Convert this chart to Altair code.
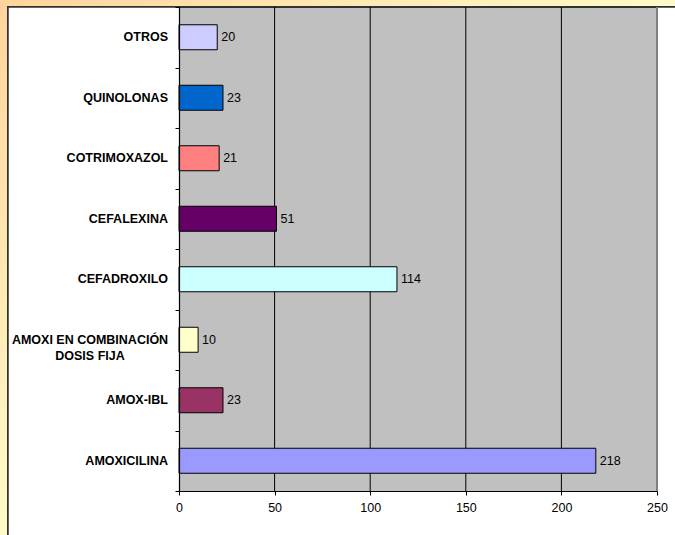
import altair as alt
import pandas as pd

# Antibiotic prescriptions by group
categories = [
    "OTROS",
    "QUINOLONAS",
    "COTRIMOXAZOL",
    "CEFALEXINA",
    "CEFADROXILO",
    "AMOXI EN COMBINACIÓN\nDOSIS FIJA",
    "AMOX-IBL",
    "AMOXICILINA",
]
values = [20, 23, 21, 51, 114, 10, 23, 218]
bar_colors = ["#CCCCFF", "#0066CC", "#FF8080", "#660066",
              "#CCFFFF", "#FFFFCC", "#993366", "#9999FF"]
x_ticks = [0, 50, 100, 150, 200, 250]
grid_values = [50, 100, 150, 200]

FONT = "Liberation Sans"
W, H = 478, 484
PAD = {"left": 179, "top": 7, "right": 18, "bottom": 44}

df = pd.DataFrame({"cat": categories, "val": values})
grid_df = pd.DataFrame({"v": grid_values})

x_scale = alt.Scale(domain=[0, 250], nice=False, zero=True)
y_scale = alt.Scale(domain=categories, paddingInner=0, paddingOuter=0)

x_axis = alt.Axis(values=x_ticks, grid=False, title=None,
                  domainColor="black", domainWidth=1.2,
                  tickColor="black", tickSize=4,
                  labelFont=FONT, labelFontSize=12.5, labelFlush=False,
                  labelColor="black", labelPadding=6, zindex=1)
y_axis = alt.Axis(labels=False, title=None, grid=False,
                  domainColor="black", domainWidth=1.2,
                  tickColor="black", tickSize=4,
                  tickBand="extent", zindex=1)

# page background: diagonal peach-to-yellow wash
bg = alt.Chart(df).mark_rect(
    fill=alt.Gradient(
        gradient="linear", x1=0, y1=0, x2=1, y2=1,
        stops=[alt.GradientStop(offset=0, color="#FFD49C"),
               alt.GradientStop(offset=0.55, color="#FFFFCC"),
               alt.GradientStop(offset=1, color="#FFFFCC")],
    )
).encode(x=alt.value(-PAD["left"]), x2=alt.value(W + PAD["right"]),
         y=alt.value(-PAD["top"]), y2=alt.value(H + PAD["bottom"]))

# white chart frame
frame = alt.Chart(df).mark_rect(
    fill="white", stroke="#333333", strokeWidth=1.5
).encode(x=alt.value(-171), x2=alt.value(W + 60),
         y=alt.value(0), y2=alt.value(H + 80))

# grey plot area
plot_bg = alt.Chart(df).mark_rect(fill="#C0C0C0").encode(
    x=alt.value(0), x2=alt.value(W), y=alt.value(0), y2=alt.value(H))

top_edge = alt.Chart(df).mark_rule(color="#333333", strokeWidth=1.5).encode(
    x=alt.value(0), x2=alt.value(W), y=alt.value(0))

right_edge = alt.Chart(df).mark_rule(color="#808080", strokeWidth=1.5).encode(
    x=alt.value(W), y=alt.value(0), y2=alt.value(H))

grid = alt.Chart(grid_df).mark_rule(color="black", strokeWidth=1).encode(
    x=alt.X("v:Q", scale=x_scale, axis=x_axis))

bars = alt.Chart(df).mark_bar(size=25, stroke="black", strokeWidth=1).encode(
    x=alt.X("val:Q", scale=x_scale, axis=x_axis),
    y=alt.Y("cat:N", scale=y_scale, sort=categories, axis=y_axis),
    color=alt.Color("cat:N", scale=alt.Scale(domain=categories, range=bar_colors),
                    legend=None),
)

value_labels = alt.Chart(df).mark_text(
    align="left", baseline="middle", dx=4, font=FONT, fontSize=12.5, color="black"
).encode(
    x=alt.X("val:Q", scale=x_scale, axis=x_axis),
    y=alt.Y("cat:N", scale=y_scale, sort=categories, axis=y_axis),
    text="val:Q",
)

# category labels drawn as text so the two-line one can be centred
cat_single = alt.Chart(df).transform_filter(
    "indexof(datum.cat, '\\n') < 0"
).mark_text(
    align="right", baseline="middle", font=FONT, fontSize=12.5,
    fontWeight="bold", color="black"
).encode(
    x=alt.value(-11),
    y=alt.Y("cat:N", scale=y_scale, sort=categories, axis=y_axis),
    text="cat:N",
)

cat_multi = alt.Chart(df).transform_filter(
    "indexof(datum.cat, '\\n') >= 0"
).mark_text(
    align="center", baseline="middle", font=FONT, fontSize=12.5,
    fontWeight="bold", color="black", lineBreak="\n", lineHeight=16
).encode(
    x=alt.value(-89),
    y=alt.Y("cat:N", scale=y_scale, sort=categories, axis=y_axis),
    text="cat:N",
)

chart = alt.layer(
    bg, frame, plot_bg, top_edge, grid, right_edge, bars, value_labels,
    cat_single, cat_multi
).properties(
    width=W, height=H,
    autosize=alt.AutoSizeParams(type="none"),
    padding=PAD,
).configure_view(stroke=None)

chart.save("out.html", embed_options={"renderer": "svg", "actions": False})
